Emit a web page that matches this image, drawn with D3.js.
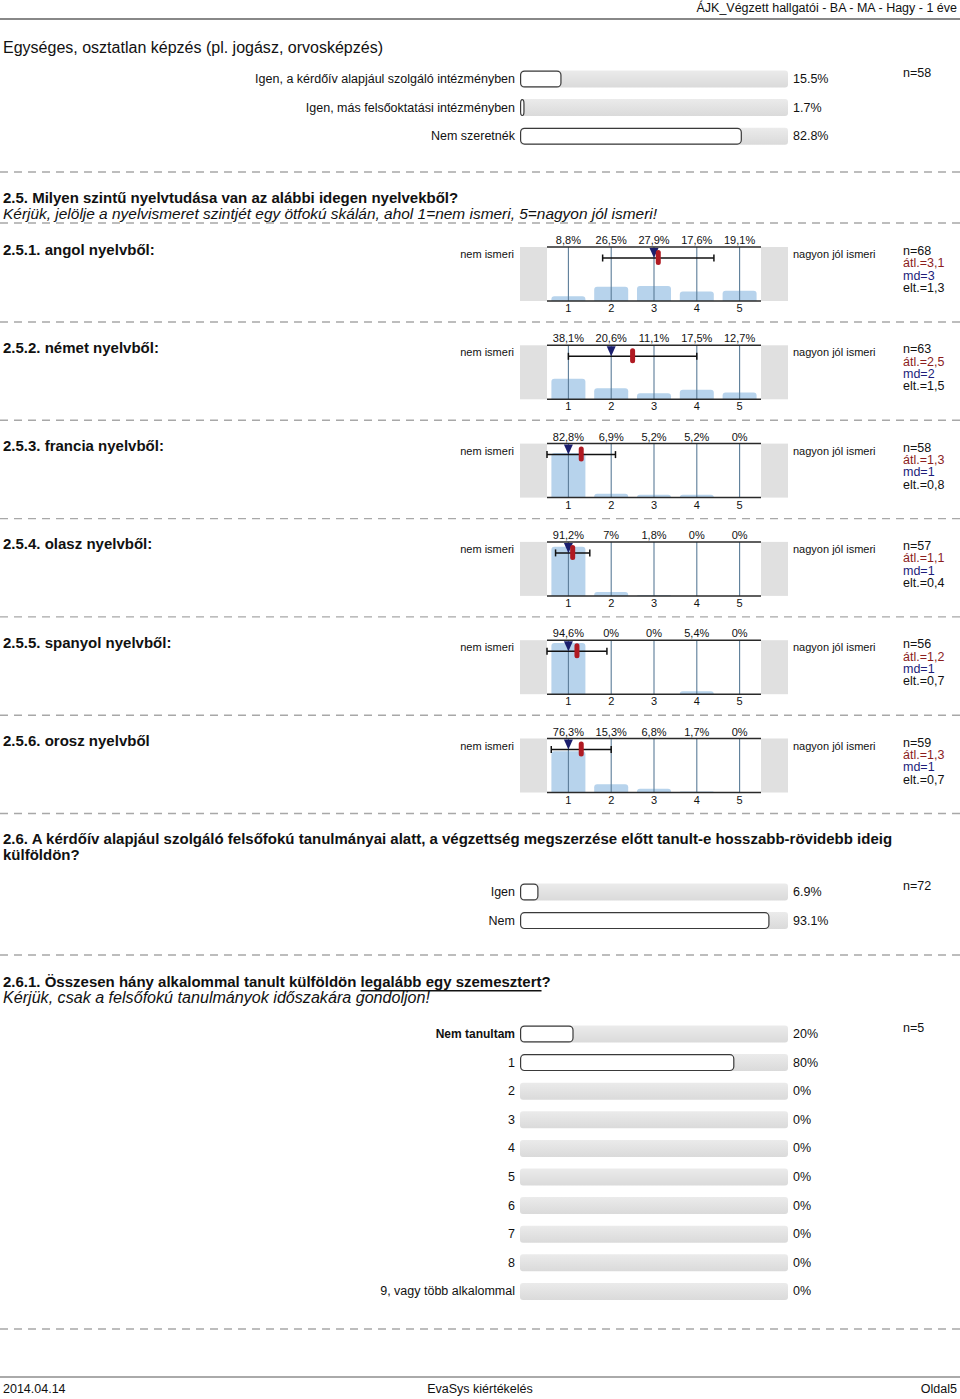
<!DOCTYPE html>
<html><head><meta charset="utf-8">
<script src="https://cdnjs.cloudflare.com/ajax/libs/d3/7.8.5/d3.min.js"></script>
<style>
body{margin:0;background:#fff}
svg{display:block;font-family:"Liberation Sans",Arial,sans-serif}
</style>
</head><body><div id="chart"></div>
<script>
// ---------- DATA ----------
const headerText = "ÁJK_Végzett hallgatói - BA - MA - Hagy - 1 éve";
const footerLeft = "2014.04.14", footerMid = "EvaSys kiértékelés", footerRight = "Oldal5";

const q1Title = "Egységes, osztatlan képzés (pl. jogász, orvosképzés)";
const q1Labels = ["Igen, a kérdőív alapjául szolgáló intézményben", "Igen, más felsőoktatási intézményben", "Nem szeretnék"];
const q1Values = [15.5, 1.7, 82.8];
const q1N = 58;

const q25Title = "2.5. Milyen szintű nyelvtudása van az alábbi idegen nyelvekből?";
const q25Sub = "Kérjük, jelölje a nyelvismeret szintjét egy ötfokú skálán, ahol 1=nem ismeri, 5=nagyon jól ismeri!";
const scaleLeft = "nem ismeri", scaleRight = "nagyon jól ismeri";
const scaleLevels = [1, 2, 3, 4, 5];
const langTitles = ["2.5.1. angol nyelvből:", "2.5.2. német nyelvből:", "2.5.3. francia nyelvből:", "2.5.4. olasz nyelvből:", "2.5.5. spanyol nyelvből:", "2.5.6. orosz nyelvből"];
const langPcts = [
  [8.8, 26.5, 27.9, 17.6, 19.1],
  [38.1, 20.6, 11.1, 17.5, 12.7],
  [82.8, 6.9, 5.2, 5.2, 0],
  [91.2, 7, 1.8, 0, 0],
  [94.6, 0, 0, 5.4, 0],
  [76.3, 15.3, 6.8, 1.7, 0]
];
const langN = [68, 63, 58, 57, 56, 59];
const langMean = [3.1, 2.5, 1.3, 1.1, 1.2, 1.3];
const langMedian = [3, 2, 1, 1, 1, 1];
const langSd = [1.3, 1.5, 0.8, 0.4, 0.7, 0.7];

const q26TitleLines = ["2.6. A kérdőív alapjául szolgáló felsőfokú tanulmányai alatt, a végzettség megszerzése előtt tanult-e hosszabb-rövidebb ideig", "külföldön?"];
const q26Labels = ["Igen", "Nem"];
const q26Values = [6.9, 93.1];
const q26N = 72;

const q261TitleA = "2.6.1. Összesen hány alkalommal tanult külföldön ";
const q261TitleU = "legalább egy szemesztert";
const q261TitleB = "?";
const q261Sub = "Kérjük, csak a felsőfokú tanulmányok időszakára gondoljon!";
const q261Labels = ["Nem tanultam", "1", "2", "3", "4", "5", "6", "7", "8", "9, vagy több alkalommal"];
const q261Values = [20, 80, 0, 0, 0, 0, 0, 0, 0, 0];
const q261N = 5;

// ---------- DRAW ----------
const W = 960, H = 1399;
const svg = d3.select("#chart").append("svg").attr("width", W).attr("height", H);
const defs = svg.append("defs");
const gr = defs.append("linearGradient").attr("id", "trackGrad").attr("x1", 0).attr("x2", 0).attr("y1", 0).attr("y2", 1);
gr.append("stop").attr("offset", "0%").attr("stop-color", "#ebebeb");
gr.append("stop").attr("offset", "100%").attr("stop-color", "#dadada");

function txt(x, y, s, o = {}) {
  const t = svg.append("text").attr("x", x).attr("y", y).text(s)
    .attr("font-size", o.size || 13).attr("fill", o.fill || "#111")
    .attr("dominant-baseline", "central");
  if (o.anchor) t.attr("text-anchor", o.anchor);
  if (o.bold) t.attr("font-weight", "bold");
  if (o.italic) t.attr("font-style", "italic");
  if (o.len) t.attr("textLength", o.len).attr("lengthAdjust", "spacingAndGlyphs");
  return t;
}
function dashed(y) {
  svg.append("line").attr("x1", 0).attr("x2", W).attr("y1", y).attr("y2", y)
    .attr("stroke", "#a8a8a8").attr("stroke-width", 1.4).attr("stroke-dasharray", "8,6");
}

// header / footer
txt(957, 8, headerText, {anchor: "end", size: 12.5});
svg.append("rect").attr("x", 0).attr("y", 18).attr("width", W).attr("height", 2).attr("fill", "#888");
svg.append("rect").attr("x", 0).attr("y", 1376).attr("width", W).attr("height", 2).attr("fill", "#aaa");
txt(3, 1389, footerLeft, {size: 12.5});
txt(480, 1389, footerMid, {anchor: "middle", size: 12.5});
txt(957, 1389, footerRight, {anchor: "end", size: 12.5});

// horizontal bar block
const xH = d3.scaleLinear().domain([0, 100]).range([520, 788]);
function hbars(labels, values, n, y0, step, boldFirst) {
  const ys = labels.map((d, i) => y0 + i * step);
  labels.forEach((lab, i) => {
    const y = ys[i];
    const isB = boldFirst && i === 0;
    txt(515, y, lab, {anchor: "end", size: isB ? 12 : 12.5, bold: isB});
    svg.append("rect").attr("x", xH(0)).attr("y", y - 8.5).attr("width", xH(100) - xH(0)).attr("height", 17)
      .attr("rx", 3).attr("fill", "url(#trackGrad)");
    if (values[i] > 0) {
      svg.append("rect").attr("x", xH(0) + 0.6).attr("y", y - 8.5 + 0.6)
        .attr("width", Math.max(xH(values[i]) - xH(0) - 1.2, 3)).attr("height", 15.8)
        .attr("rx", 4).attr("fill", "#fff").attr("stroke", "#3a3a3a").attr("stroke-width", 1.2);
    }
    const v = values[i];
    txt(793, y, (v % 1 === 0 ? v : v.toFixed(1)) + "%", {size: 12.5});
  });
  txt(903, ys[0] - 6, "n=" + n, {size: 12.5});
}

// Section 1
txt(3, 47, q1Title, {size: 16, len: 380});
hbars(q1Labels, q1Values, q1N, 79, 28.6, false);
dashed(172);

// Section 2.5
txt(3, 197, q25Title, {size: 15, bold: true});
txt(3, 213, q25Sub, {size: 15.5, italic: true, len: 654});
dashed(223);

const xP = d3.scalePoint().domain(scaleLevels).range([547, 761]).padding(0.5);
const xM = d3.scaleLinear().domain([1, 5]).range([xP(1), xP(5)]);
const fmtPct = v => (v % 1 === 0 ? String(v) : String(v).replace(".", ",")) + "%";
const fmt1 = v => v.toFixed(1).replace(".", ",");
const blockStep = 98.3;

langTitles.forEach((title, k) => {
  const top = 247 + k * blockStep, bot = top + 54;
  const yS = d3.scaleLinear().domain([0, 100]).range([bot, bot - 54]);
  txt(3, top + 2, title, {size: 15, bold: true});
  txt(514, top + 7, scaleLeft, {anchor: "end", size: 11});
  txt(793, top + 7, scaleRight, {size: 11});
  // side boxes
  svg.append("rect").attr("x", 520).attr("y", top).attr("width", 27).attr("height", bot - top).attr("fill", "#e0e0e0");
  svg.append("rect").attr("x", 761).attr("y", top).attr("width", 27).attr("height", bot - top).attr("fill", "#e0e0e0");
  // bars
  const bw = 34, r = 3;
  langPcts[k].forEach((p, i) => {
    const cx = xP(scaleLevels[i]);
    const yt = yS(p), h = bot - yt;
    if (h <= 0) return;
    const rr = Math.min(r, h);
    const x0 = cx - bw / 2, x1 = cx + bw / 2;
    const path = `M${x0},${bot} L${x0},${yt + rr} Q${x0},${yt} ${x0 + rr},${yt} L${x1 - rr},${yt} Q${x1},${yt} ${x1},${yt + rr} L${x1},${bot} Z`;
    svg.append("path").attr("d", path).attr("fill", "#b7d3ec");
  });
  // vertical grid lines
  scaleLevels.forEach(l => {
    svg.append("line").attr("x1", xP(l)).attr("x2", xP(l)).attr("y1", top).attr("y2", bot)
      .attr("stroke", "#5b7c98").attr("stroke-width", 1.1);
  });
  // top/bottom lines
  svg.append("line").attr("x1", 547).attr("x2", 761).attr("y1", top).attr("y2", top).attr("stroke", "#2a2a2a").attr("stroke-width", 1.5);
  svg.append("line").attr("x1", 547).attr("x2", 761).attr("y1", bot).attr("y2", bot).attr("stroke", "#2a2a2a").attr("stroke-width", 1.5);
  // percent labels and numbers
  langPcts[k].forEach((p, i) => {
    txt(xP(scaleLevels[i]), top - 7, fmtPct(p), {anchor: "middle", size: 11});
    txt(xP(scaleLevels[i]), bot + 7, String(scaleLevels[i]), {anchor: "middle", size: 11});
  });
  // error bar
  const m = langMean[k], s = langSd[k], ey = top + 11;
  const ex0 = xM(m - s), ex1 = xM(m + s);
  svg.append("line").attr("x1", ex0).attr("x2", ex1).attr("y1", ey).attr("y2", ey).attr("stroke", "#111").attr("stroke-width", 1.5);
  [ex0, ex1].forEach(ex => svg.append("line").attr("x1", ex).attr("x2", ex).attr("y1", ey - 3.5).attr("y2", ey + 3.5).attr("stroke", "#111").attr("stroke-width", 1.5));
  // median triangle
  const mx = xM(langMedian[k]);
  svg.append("path").attr("d", `M${mx - 4.5},${top + 1} L${mx + 4.5},${top + 1} L${mx},${top + 11} Z`).attr("fill", "#1b1f6e");
  // mean marker
  svg.append("rect").attr("x", xM(m) - 2.5).attr("y", top + 3).attr("width", 5).attr("height", 15).attr("rx", 2.5).attr("fill", "#b01a22");
  // stats
  txt(903, top + 4, "n=" + langN[k], {size: 12.5});
  txt(903, top + 16.3, "átl.=" + fmt1(m), {size: 12.5, fill: "#8b1d1d"});
  txt(903, top + 28.6, "md=" + langMedian[k], {size: 12.5, fill: "#1d1d7a"});
  txt(903, top + 41, "elt.=" + fmt1(s), {size: 12.5});
  dashed(top + 75);
});

// Section 2.6
txt(3, 838, q26TitleLines[0], {size: 15, bold: true});
txt(3, 854, q26TitleLines[1], {size: 15, bold: true});
hbars(q26Labels, q26Values, q26N, 892, 28.6, false);
dashed(955);

// Section 2.6.1
const t261 = txt(3, 981, "", {size: 15, bold: true});
t261.append("tspan").text(q261TitleA);
t261.append("tspan").text(q261TitleU).style("text-decoration", "underline");
t261.append("tspan").text(q261TitleB);
txt(3, 997, q261Sub, {size: 16, italic: true, len: 427});
hbars(q261Labels, q261Values, q261N, 1034, 28.6, true);
dashed(1329);
</script>
</body></html>
